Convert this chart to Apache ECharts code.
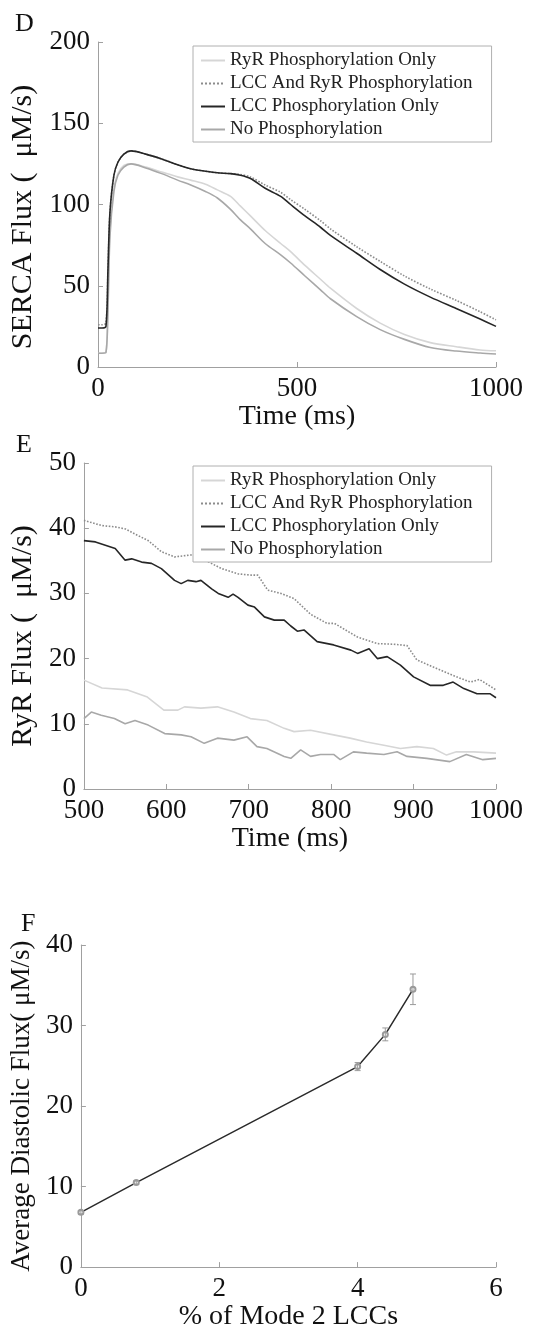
<!DOCTYPE html>
<html>
<head>
<meta charset="utf-8">
<script src="https://cdn.jsdelivr.net/npm/echarts@6.0.0/dist/echarts.min.js"></script>
<style>
  html, body { margin: 0; padding: 0; background: #fff; }
  #chart { width: 542px; height: 1332px; }
</style>
</head>
<body>
<div id="chart"></div>
<script>
  // ---- panel D: SERCA flux, 0-1000 ms ----
  const dTime = [0, 10, 20, 25, 30, 40, 50, 65, 83, 120, 160, 200, 233, 270, 300, 333, 358, 383, 420, 459, 484, 520, 559, 584, 650, 709, 770, 835, 900, 960, 1000]
  const dRyrOnly = [8.5, 8.5, 9, 40, 85, 110, 119, 124, 125, 123, 120, 117, 115, 112.5, 109, 105, 99, 93, 84, 76, 71, 62.5, 54, 48.5, 36, 27, 20, 15, 12.5, 10.5, 10]
  const dBoth = [26, 26, 27, 60, 95, 118, 126, 131, 133, 131, 128, 124.5, 122, 120.5, 119.5, 119, 118.5, 117, 112, 107.5, 103, 97, 90, 85, 74, 65, 56, 48, 41, 34, 29]
  const dLccOnly = [24, 24, 25, 60, 95, 118, 126, 131, 133, 131, 128, 124.5, 122, 120.5, 119.5, 119, 118, 116, 110, 105, 100, 93, 86, 81, 70, 60, 51, 43, 36, 29.5, 25]
  const dNone = [8.5, 8.5, 9, 35, 80, 108, 118, 123, 125, 122.5, 119, 115, 112, 108, 104, 97, 90.5, 85, 76, 69, 64, 56, 47.5, 42, 31, 23, 17, 12, 9.8, 8.6, 8]

  // ---- panel E: RyR flux, 500-1000 ms ([time, value]) ----
  const eRyrOnly = [[500, 16.7], [522, 15.5], [553, 15.2], [577, 14.1], [597, 12.1], [614, 12.1], [622, 12.6], [642, 12.4], [662, 12.6], [682, 11.8], [702, 10.8], [722, 10.5], [743, 9.3], [755, 8.8], [775, 9.0], [803, 8.3], [823, 7.8], [843, 7.2], [864, 6.7], [884, 6.2], [904, 6.5], [924, 6.2], [940, 5.2], [952, 5.7], [973, 5.7], [1000, 5.5]]
  const eBoth = [[500, 41.2], [522, 40.4], [538, 40.2], [550, 39.9], [562, 39.1], [578, 38.1], [594, 36.4], [610, 35.6], [630, 35.9], [647, 35.1], [667, 33.8], [687, 33.0], [703, 32.8], [711, 32.8], [723, 30.5], [739, 30.0], [755, 29.2], [775, 26.8], [795, 25.4], [804, 25.4], [832, 23.3], [856, 22.3], [876, 22.2], [892, 22.0], [904, 19.8], [924, 18.7], [952, 17.2], [969, 16.4], [980, 16.8], [1000, 15.2]]
  const eLccOnly = [[500, 38.1], [514, 37.9], [538, 36.9], [550, 35.1], [558, 35.3], [570, 34.8], [582, 34.6], [594, 33.8], [610, 32.0], [618, 31.5], [626, 32.0], [636, 31.8], [642, 32.0], [655, 30.7], [663, 30.0], [675, 29.4], [681, 29.9], [687, 29.4], [699, 28.2], [707, 27.9], [719, 26.4], [731, 25.9], [743, 25.9], [751, 25.0], [759, 24.2], [767, 24.4], [783, 22.6], [803, 22.1], [824, 21.3], [832, 20.8], [846, 21.5], [856, 20.0], [868, 20.3], [884, 19.0], [900, 17.2], [920, 15.9], [936, 15.9], [948, 16.4], [961, 15.4], [977, 14.6], [993, 14.6], [1000, 14.0]]
  const eNone = [[500, 10.8], [509, 11.8], [521, 11.3], [537, 10.8], [550, 10.0], [562, 10.5], [578, 9.8], [598, 8.5], [618, 8.3], [630, 8.0], [646, 7.0], [662, 7.8], [682, 7.5], [698, 8.0], [710, 6.5], [722, 6.2], [743, 5.0], [751, 4.7], [763, 6.0], [775, 5.0], [787, 5.3], [803, 5.3], [811, 4.5], [827, 5.7], [843, 5.5], [864, 5.3], [880, 5.7], [892, 5.0], [916, 4.7], [944, 4.2], [964, 5.3], [984, 4.5], [1000, 4.7]]

  // ---- panel F: diastolic flux vs % mode 2 LCCs ----
  const fX = [0, 0.8, 4.0, 4.4, 4.8]
  const fY = [6.8, 10.5, 24.9, 28.9, 34.5]
  const fErr = [0.2, 0.2, 0.5, 0.8, 1.9]

  const names = ['RyR Phosphorylation Only', 'LCC And RyR Phosphorylation', 'LCC Phosphorylation Only', 'No Phosphorylation']
  const colors = ['#d6d6d6', '#8c8c8c', '#262626', '#a8a8a8']
  const types = ['solid', 'dotted', 'solid', 'solid']

  const serif = '"Liberation Serif", "Times New Roman", serif'
  const axisGrey = '#a0a0a0'

  function valueAxis(grid, min, max, interval, name, nameGap, extra) {
    return Object.assign({
      type: 'value',
      gridIndex: grid,
      min: min,
      max: max,
      interval: interval,
      name: name,
      nameLocation: 'middle',
      nameGap: nameGap,
      nameTextStyle: { color: '#111', fontSize: 28, fontFamily: serif },
      axisLine: { show: true, lineStyle: { color: axisGrey, width: 1 } },
      axisTick: { show: true, inside: true, length: 5, lineStyle: { color: axisGrey } },
      axisLabel: { color: '#111', fontSize: 27, fontFamily: serif, margin: 8, formatter: (v) => String(v) },
      splitLine: { show: false },
    }, extra || {})
  }

  function lineSeries(i, data, axis, smooth) {
    return {
      name: names[i],
      type: 'line',
      xAxisIndex: axis,
      yAxisIndex: axis,
      data: data,
      symbol: 'none',
      smooth: smooth,
      lineStyle: { color: colors[i], width: 1.6, type: types[i] },
      itemStyle: { color: colors[i] },
    }
  }

  function legendBox(top) {
    return {
      data: names,
      orient: 'vertical',
      left: 193,
      top: top,
      padding: [5, 19, 3, 7],
      itemGap: 4,
      itemWidth: 24,
      itemHeight: 14,
      borderColor: '#b0b0b0',
      borderWidth: 1,
      backgroundColor: '#fff',
      selectedMode: false,
      itemStyle: { opacity: 0 },
      textStyle: { color: '#222', fontSize: 19, fontFamily: serif, lineHeight: 18 },
    }
  }

  const zip = (xs, ys) => xs.map((x, i) => [x, ys[i]])

  const chart = echarts.init(document.getElementById('chart'))
  chart.setOption({
    animation: false,
    backgroundColor: '#fff',
    grid: [
      { left: 97, top: 42, width: 399, height: 325 },
      { left: 82, top: 463, width: 414, height: 326 },
      { left: 77, top: 945, width: 419, height: 331 },
    ],
    xAxis: [
      valueAxis(0, 0, 1000, 500, 'Time (ms)', 32),
      valueAxis(1, 500, 1000, 100, 'Time (ms)', 32),
      valueAxis(2, 0, 6, 2, '% of Mode 2 LCCs', 28),
    ],
    yAxis: [
      valueAxis(0, 0, 200, 50, 'SERCA Flux (  μM/s)', 60,
        { nameTextStyle: { color: '#111', fontSize: 30, fontFamily: serif, padding: [0, 25, 0, 0] } }),
      valueAxis(1, 0, 50, 10, 'RyR Flux (  μM/s)', 45,
        { nameTextStyle: { color: '#111', fontSize: 30, fontFamily: serif, padding: [0, 20, 0, 0] } }),
      valueAxis(2, 0, 40, 10, 'Average Diastolic Flux( μM/s)', 38,
        { nameTextStyle: { color: '#111', fontSize: 27, fontFamily: serif } }),
    ],
    legend: [legendBox(46), legendBox(466)],
    graphic: [
      { type: 'text', left: 15, top: 11, style: { text: 'D', fontSize: 26, fontFamily: serif, fill: '#111' } },
      { type: 'text', left: 16, top: 432, style: { text: 'E', fontSize: 26, fontFamily: serif, fill: '#111' } },
      { type: 'text', left: 21, top: 911, style: { text: 'F', fontSize: 26, fontFamily: serif, fill: '#111' } },
    ],
    series: [
      lineSeries(0, zip(dTime, dRyrOnly), 0, 0.3),
      lineSeries(3, zip(dTime, dNone), 0, 0.3),
      lineSeries(1, zip(dTime, dBoth), 0, 0.3),
      lineSeries(2, zip(dTime, dLccOnly), 0, 0.3),
      lineSeries(0, eRyrOnly, 1, false),
      lineSeries(3, eNone, 1, false),
      lineSeries(1, eBoth, 1, false),
      lineSeries(2, eLccOnly, 1, false),
      {
        type: 'line',
        xAxisIndex: 2,
        yAxisIndex: 2,
        data: zip(fX, fY),
        symbol: 'emptyCircle',
        symbolSize: 5,
        lineStyle: { color: '#2a2a2a', width: 1.5 },
        itemStyle: { color: '#9a9a9a', borderWidth: 1 },
        z: 3,
      },
      {
        type: 'custom',
        xAxisIndex: 2,
        yAxisIndex: 2,
        data: fX.map((x, i) => [x, fY[i], fErr[i]]),
        encode: { x: 0, y: 1 },
        z: 4,
        renderItem: function (params, api) {
          const x = api.value(0)
          const y = api.value(1)
          const e = api.value(2)
          const top = api.coord([x, y + e])
          const bot = api.coord([x, y - e])
          const w = 3
          const st = { stroke: '#9a9a9a', lineWidth: 1 }
          return {
            type: 'group',
            children: [
              { type: 'line', shape: { x1: top[0], y1: top[1], x2: bot[0], y2: bot[1] }, style: st },
              { type: 'line', shape: { x1: top[0] - w, y1: top[1], x2: top[0] + w, y2: top[1] }, style: st },
              { type: 'line', shape: { x1: bot[0] - w, y1: bot[1], x2: bot[0] + w, y2: bot[1] }, style: st },
            ],
          }
        },
      },
    ],
  })
</script>
</body>
</html>
